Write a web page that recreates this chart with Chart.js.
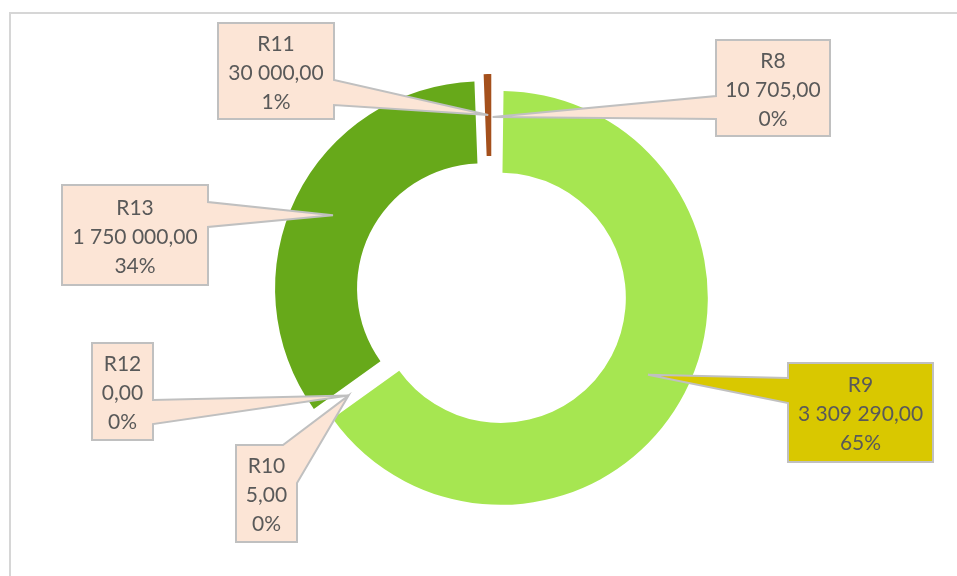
<!DOCTYPE html>
<html>
<head>
<meta charset="utf-8">
<script src="https://cdn.jsdelivr.net/npm/chart.js@4.4.1/dist/chart.umd.min.js"></script>
<style>
  html, body { margin: 0; padding: 0; background: #fff; }
  #wrap { position: relative; width: 957px; height: 576px; overflow: hidden; }
  #frame { position: absolute; left: 9px; top: 12px; right: -10px; bottom: -10px;
           border-top: 2px solid #d6d6d6; border-left: 2px solid #d6d6d6; }
  canvas { position: absolute; left: 0; top: 0; }
</style>
</head>
<body>
<div id="wrap">
  <div id="frame"></div>
  <canvas id="chart" width="957" height="576"></canvas>
</div>
<script>
// data, clockwise from 12 o'clock
const labels = ["R8", "R9", "R10", "R12", "R13", "R11"];
const values = [10705, 3309290, 5, 0, 1750000, 30000];

// styling
const colors = ["#ffffff", "#a6e651", "#a6e651", "#67a91a", "#67a91a", "#a4501c"];
const explode = [10, 10.5, 10, 10, 10.5, 12];

// callout boxes: [x, y, w, h], wedge base as perimeter distances (clockwise from top-left)
const callouts = {
  R11: { box: [218, 23, 116, 96], wedge: [173, 198], fill: "#fce5d6" },
  R8:  { box: [716, 40, 114, 96], wedge: [341, 364], fill: "#fce5d6" },
  R13: { box: [62, 185, 146, 100], wedge: [163, 188], fill: "#fce5d6" },
  R12: { box: [92, 343, 61, 97], wedge: [118, 142], fill: "#fce5d6" },
  R10: { box: [236, 445, 61, 97], wedge: [47, 99], fill: "#fce5d6" },
  R9:  { box: [788, 363, 145, 99], wedge: [448, 473], fill: "#d9c800" }
};

const total = values.reduce((a, b) => a + b, 0);

function fmt(v) {
  const [int, dec] = v.toFixed(2).split(".");
  return int.replace(/\B(?=(\d{3})+(?!\d))/g, " ") + "," + dec;
}

function perimeterPoint(b, s) {
  const [x, y, w, h] = b;
  if (s <= w) return [x + s, y];
  if (s <= w + h) return [x + w, y + s - w];
  if (s <= 2 * w + h) return [x + w - (s - w - h), y + h];
  return [x, y + h - (s - 2 * w - h)];
}

const explodePlugin = {
  id: "explode",
  afterDatasetsUpdate(chart) {
    chart.getDatasetMeta(0).data.forEach((arc, i) => {
      const mid = (arc.startAngle + arc.endAngle) / 2;
      arc.x += Math.cos(mid) * explode[i];
      arc.y += Math.sin(mid) * explode[i];
    });
  }
};

const calloutPlugin = {
  id: "callouts",
  afterDatasetsDraw(chart) {
    const ctx = chart.ctx;
    chart.getDatasetMeta(0).data.forEach((arc, i) => {
      const c = callouts[labels[i]];
      const tip = arc.tooltipPosition();
      const [x, y, w, h] = c.box;
      const [s1, s2] = c.wedge;
      const corners = [0, w, w + h, 2 * w + h];

      ctx.save();
      ctx.beginPath();
      corners.filter(s => s < s1).forEach((s, k) => {
        const p = perimeterPoint(c.box, s);
        k === 0 ? ctx.moveTo(p[0], p[1]) : ctx.lineTo(p[0], p[1]);
      });
      const p1 = perimeterPoint(c.box, s1);
      const p2 = perimeterPoint(c.box, s2);
      ctx.lineTo(p1[0], p1[1]);
      ctx.lineTo(tip.x, tip.y);
      ctx.lineTo(p2[0], p2[1]);
      corners.filter(s => s > s2).forEach(s => {
        const p = perimeterPoint(c.box, s);
        ctx.lineTo(p[0], p[1]);
      });
      ctx.closePath();
      ctx.fillStyle = c.fill;
      ctx.fill();
      ctx.lineWidth = 2;
      ctx.lineJoin = "miter";
      ctx.strokeStyle = "#c0c0c0";
      ctx.stroke();

      const lines = [labels[i], fmt(values[i]), Math.round(values[i] / total * 100) + "%"];
      ctx.font = "21px Lato";
      ctx.fillStyle = "#595959";
      ctx.textAlign = "center";
      ctx.textBaseline = "middle";
      const cx = x + w / 2;
      const cy = y + h / 2 + 2;
      lines.forEach((t, k) => ctx.fillText(t, cx, cy + (k - 1) * 29));
      ctx.restore();
    });
  }
};

document.fonts.load("21px Lato").then(() => {
  new Chart(document.getElementById("chart"), {
    type: "doughnut",
    data: {
      labels: labels,
      datasets: [{
        data: values,
        backgroundColor: colors,
        borderWidth: 0
      }]
    },
    options: {
      responsive: false,
      animation: false,
      events: [],
      radius: 207,
      cutout: "60.4%",
      layout: { padding: { left: 40, right: 14, top: 20, bottom: 10 } },
      plugins: {
        legend: { display: false },
        tooltip: { enabled: false }
      }
    },
    plugins: [explodePlugin, calloutPlugin]
  });
});
</script>
</body>
</html>
